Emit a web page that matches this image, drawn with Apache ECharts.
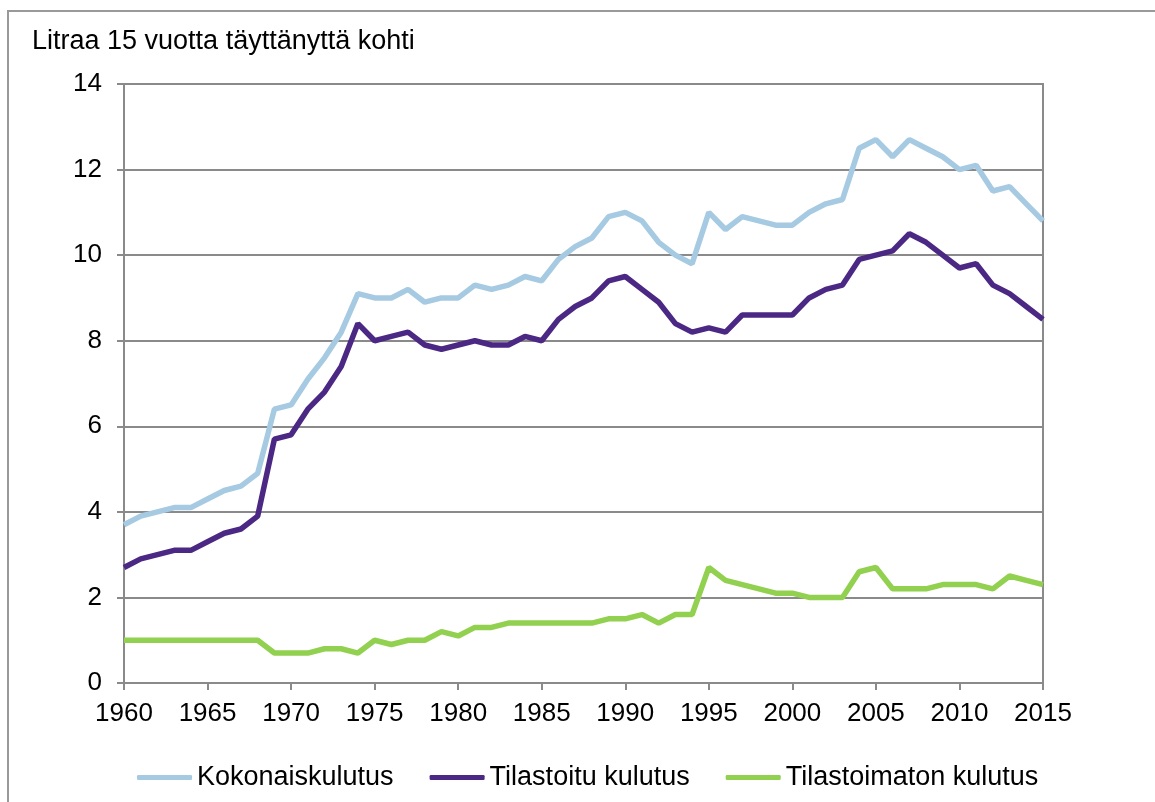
<!DOCTYPE html>
<html>
<head>
<meta charset="utf-8">
<title>Alkoholin kulutus</title>
<script src="https://cdn.jsdelivr.net/npm/echarts@6/dist/echarts.min.js"></script>
<style>
  html, body { margin: 0; padding: 0; background: #fff; }
  #chart { width: 1155px; height: 802px; }
</style>
</head>
<body>
<div id="chart"></div>
<script>
// vuodet 1960-2015
var years = [];
for (var y = 1960; y <= 2015; y++) years.push(y);

var seriesNames = ["Kokonaiskulutus", "Tilastoitu kulutus", "Tilastoimaton kulutus"];

var kokonais = [3.7, 3.9, 4.0, 4.1, 4.1, 4.3, 4.5, 4.6, 4.9, 6.4,
  6.5, 7.1, 7.6, 8.2, 9.1, 9.0, 9.0, 9.2, 8.9, 9.0,
  9.0, 9.3, 9.2, 9.3, 9.5, 9.4, 9.9, 10.2, 10.4, 10.9,
  11.0, 10.8, 10.3, 10.0, 9.8, 11.0, 10.6, 10.9, 10.8, 10.7,
  10.7, 11.0, 11.2, 11.3, 12.5, 12.7, 12.3, 12.7, 12.5, 12.3,
  12.0, 12.1, 11.5, 11.6, 11.2, 10.8];

var tilastoitu = [2.7, 2.9, 3.0, 3.1, 3.1, 3.3, 3.5, 3.6, 3.9, 5.7,
  5.8, 6.4, 6.8, 7.4, 8.4, 8.0, 8.1, 8.2, 7.9, 7.8,
  7.9, 8.0, 7.9, 7.9, 8.1, 8.0, 8.5, 8.8, 9.0, 9.4,
  9.5, 9.2, 8.9, 8.4, 8.2, 8.3, 8.2, 8.6, 8.6, 8.6,
  8.6, 9.0, 9.2, 9.3, 9.9, 10.0, 10.1, 10.5, 10.3, 10.0,
  9.7, 9.8, 9.3, 9.1, 8.8, 8.5];

var tilastoimaton = [1.0, 1.0, 1.0, 1.0, 1.0, 1.0, 1.0, 1.0, 1.0, 0.7,
  0.7, 0.7, 0.8, 0.8, 0.7, 1.0, 0.9, 1.0, 1.0, 1.2,
  1.1, 1.3, 1.3, 1.4, 1.4, 1.4, 1.4, 1.4, 1.4, 1.5,
  1.5, 1.6, 1.4, 1.6, 1.6, 2.7, 2.4, 2.3, 2.2, 2.1,
  2.1, 2.0, 2.0, 2.0, 2.6, 2.7, 2.2, 2.2, 2.2, 2.3,
  2.3, 2.3, 2.2, 2.5, 2.4, 2.3];

var colors = ["#a6cae2", "#4b2883", "#92d050"];

(function() {
  var myChart = echarts.init(document.getElementById("chart"));
  var font = "'Liberation Sans', Arial, sans-serif";

  function pairs(vals) {
    return years.map(function(yr, i) { return [yr, vals[i]]; });
  }

  var option = {
    animation: false,
    color: colors,
    textStyle: { fontFamily: font },
    // ulkoreunus
    graphic: [
      {
        type: "rect",
        shape: { x: 8, y: 11, width: 1300, height: 900 },
        style: { fill: "none", stroke: "#999", lineWidth: 2 },
        silent: true
      }
    ],
    title: {
      text: "Litraa 15 vuotta täyttänyttä kohti",
      left: 27,
      top: 23,
      textStyle: { fontFamily: font, fontSize: 27, fontWeight: "normal", color: "#000" }
    },
    legend: {
      left: 132,
      top: 759,
      icon: "roundRect",
      itemWidth: 55,
      itemHeight: 5,
      itemGap: 36,
      data: seriesNames,
      textStyle: { fontFamily: font, fontSize: 27, color: "#000" }
    },
    grid: {
      left: 124,
      right: 112,
      top: 84,
      bottom: 119,
      show: true,
      borderColor: "#8a8a8a",
      borderWidth: 2
    },
    xAxis: {
      type: "value",
      min: 1960,
      max: 2015,
      interval: 5,
      axisLine: { lineStyle: { color: "#8a8a8a", width: 2 } },
      axisTick: { show: true, length: 7, lineStyle: { color: "#8a8a8a", width: 2 } },
      axisLabel: {
        color: "#000", fontSize: 26, margin: 18, fontFamily: font,
        formatter: function(v) { return String(v); }
      },
      splitLine: { show: false }
    },
    yAxis: {
      type: "value",
      min: 0,
      max: 14,
      interval: 2,
      axisLine: { show: true, lineStyle: { color: "#8a8a8a", width: 2 } },
      axisTick: { show: true, length: 7, lineStyle: { color: "#8a8a8a", width: 2 } },
      axisLabel: { color: "#000", fontSize: 26, margin: 22, fontFamily: font },
      splitLine: { lineStyle: { color: "#8a8a8a", width: 2 } }
    },
    series: [
      {
        name: seriesNames[0],
        type: "line",
        data: pairs(kokonais),
        symbol: "none",
        lineStyle: { width: 5.5 }
      },
      {
        name: seriesNames[1],
        type: "line",
        data: pairs(tilastoitu),
        symbol: "none",
        lineStyle: { width: 5.5 }
      },
      {
        name: seriesNames[2],
        type: "line",
        data: pairs(tilastoimaton),
        symbol: "none",
        lineStyle: { width: 5.5 }
      }
    ]
  };

  myChart.setOption(option);
  window.addEventListener("resize", function() {
    myChart.resize();
  });
})();
</script>
</body>
</html>
